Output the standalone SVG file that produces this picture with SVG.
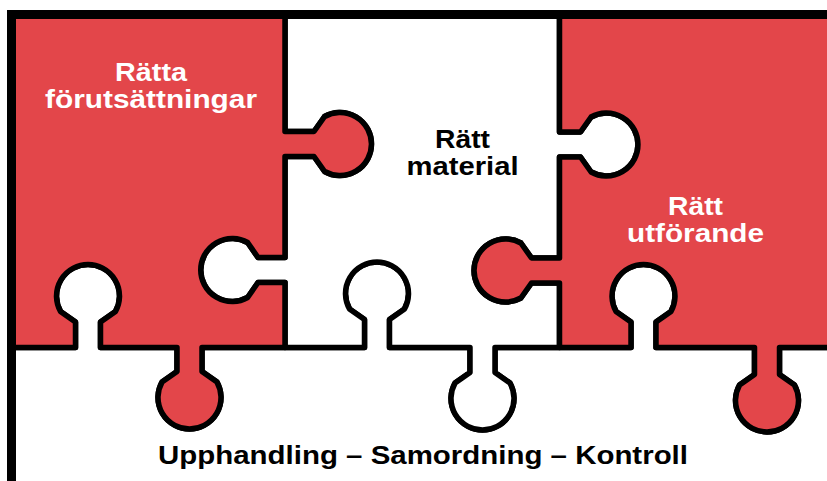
<svg xmlns="http://www.w3.org/2000/svg" width="827" height="481" viewBox="0 0 827 481">
<style>
.edge{stroke:#000;stroke-width:5.5;stroke-linejoin:round}
.red{fill:#E3464A}
.wht{fill:#FFFFFF}
.lbl{font-family:"Liberation Sans",Arial,sans-serif;font-weight:bold;font-size:25.5px;text-anchor:middle}
.lw{fill:#FFFFFF}
.lb{fill:#000000}
</style>
<rect x="0" y="0" width="827" height="481" fill="#FFFFFF"/>
<g id="piece-bottom">
<path class="edge wht" d="M 11.5 347.5 H 75.5 V 322 L 60.5 311.4 A 31.5 31.5 0 1 1 115.5 311.4 L 100.5 322 V 347.5 H 177 V 371.5 L 162 382.1 A 31.5 31.5 0 1 0 217 382.1 L 202 371.5 V 347.5 H 364.5 V 319.5 L 349.5 308.9 A 31.5 31.5 0 1 1 404.5 308.9 L 389.5 319.5 V 347.5 H 470 V 372.5 L 455 383.1 A 31.5 31.5 0 1 0 510 383.1 L 495 372.5 V 347.5 H 631 V 322 L 616 311.4 A 31.5 31.5 0 1 1 671 311.4 L 656 322 V 347.5 H 754.5 V 374.5 L 739.5 385.1 A 31.5 31.5 0 1 0 794.5 385.1 L 779.5 374.5 V 347.5 H 835 V 490 H 11.5 Z"/>
<text class="lbl lb" x="423" y="464" font-size="26.5" textLength="530" lengthAdjust="spacingAndGlyphs">Upphandling – Samordning – Kontroll</text>
</g>
<g id="piece-material">
<path class="edge wht" d="M 285 14.5 H 559.5 V 132 H 580.5 L 591.1 117 A 31.5 31.5 0 1 1 591.1 172 L 580.5 157 H 559.5 V 258 H 531.5 L 520.9 243 A 31.5 31.5 0 1 0 520.9 298 L 531.5 283 H 559.5 V 347.5 H 495 V 372.5 L 510 383.1 A 31.5 31.5 0 1 1 455 383.1 L 470 372.5 V 347.5 H 389.5 V 319.5 L 404.5 308.9 A 31.5 31.5 0 1 0 349.5 308.9 L 364.5 319.5 V 347.5 H 285 V 282.5 H 258 L 247.6 297.5 A 31.5 31.5 0 1 1 247.6 242.5 L 258 257.5 H 285 V 156.5 H 314 L 324.6 171.5 A 31.5 31.5 0 1 0 324.6 116.5 L 314 131.5 H 285 Z"/>
<text class="lbl lb" x="462.5" y="147.5" textLength="55" lengthAdjust="spacingAndGlyphs">Rätt</text>
<text class="lbl lb" x="462.5" y="175" textLength="112" lengthAdjust="spacingAndGlyphs">material</text>
</g>
<g id="piece-forutsattningar">
<path class="edge red" d="M 11.5 14.5 H 285 V 131.5 H 314 L 324.6 116.5 A 31.5 31.5 0 1 1 324.6 171.5 L 314 156.5 H 285 V 257.5 H 258 L 247.6 242.5 A 31.5 31.5 0 1 0 247.6 297.5 L 258 282.5 H 285 V 347.5 H 202 V 371.5 L 217 382.1 A 31.5 31.5 0 1 1 162 382.1 L 177 371.5 V 347.5 H 100.5 V 322 L 115.5 311.4 A 31.5 31.5 0 1 0 60.5 311.4 L 75.5 322 V 347.5 H 11.5 Z"/>
<text class="lbl lw" x="151" y="80.5" textLength="72" lengthAdjust="spacingAndGlyphs">Rätta</text>
<text class="lbl lw" x="151" y="107.5" textLength="212" lengthAdjust="spacingAndGlyphs">förutsättningar</text>
</g>
<g id="piece-utforande">
<path class="edge red" d="M 559.5 14.5 H 835 V 347.5 H 779.5 V 374.5 L 794.5 385.1 A 31.5 31.5 0 1 1 739.5 385.1 L 754.5 374.5 V 347.5 H 656 V 322 L 671 311.4 A 31.5 31.5 0 1 0 616 311.4 L 631 322 V 347.5 H 559.5 V 283 H 531.5 L 520.9 298 A 31.5 31.5 0 1 1 520.9 243 L 531.5 258 H 559.5 V 157 H 580.5 L 591.1 172 A 31.5 31.5 0 1 0 591.1 117 L 580.5 132 H 559.5 Z"/>
<text class="lbl lw" x="695.5" y="214.5" textLength="55" lengthAdjust="spacingAndGlyphs">Rätt</text>
<text class="lbl lw" x="695.5" y="242" textLength="137" lengthAdjust="spacingAndGlyphs">utförande</text>
</g>
<g id="frame">
<path d="M 11.5 490 V 14.5 H 835" fill="none" stroke="#000" stroke-width="9" stroke-linejoin="miter"/>
</g>
</svg>
